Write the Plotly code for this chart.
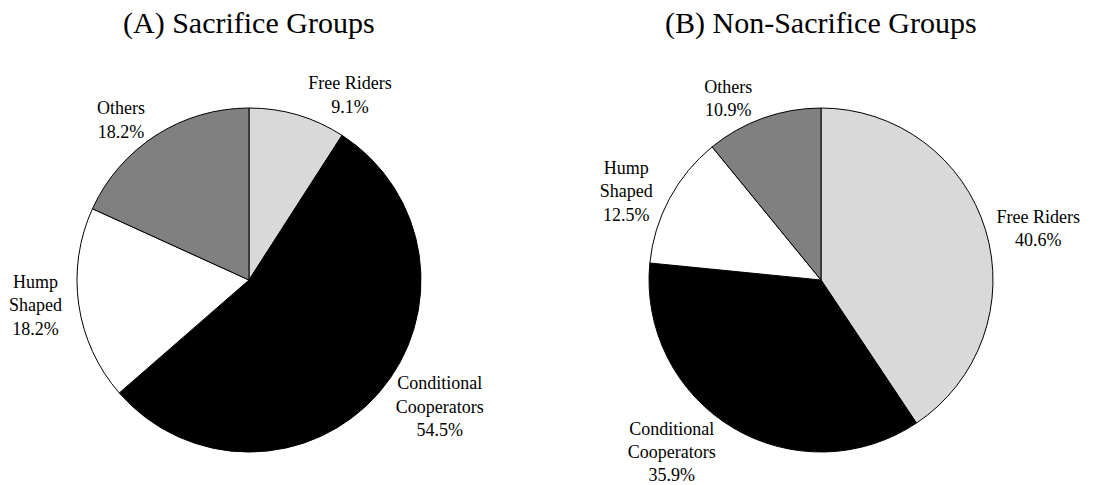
import plotly.graph_objects as go

categories = ['Free Riders', 'Conditional<br>Cooperators', 'Hump<br>Shaped', 'Others']
sacrifice_pct = [9.1, 54.5, 18.2, 18.2]
non_sacrifice_pct = [40.6, 35.9, 12.5, 10.9]
titles = ['(A) Sacrifice Groups', '(B) Non-Sacrifice Groups']
slice_colors = ['#d9d9d9', '#000000', '#ffffff', '#808080']

font = 'Liberation Serif, Times New Roman, serif'

fig = go.Figure()
for vals, dom in [(sacrifice_pct, [0.0704, 0.3852]), (non_sacrifice_pct, [0.5938, 0.9085])]:
    fig.add_trace(go.Pie(
        labels=categories, values=vals, sort=False, direction='clockwise',
        rotation=0, textposition='outside',
        texttemplate='%{label}<br>%{value:.1f}%',
        marker=dict(colors=slice_colors, line=dict(color='black', width=1)),
        textfont=dict(family=font, size=18, color='black'),
        domain=dict(x=dom, y=[0.068, 0.7773]),
        showlegend=False, hoverinfo='label+value'))

for t, x in zip(titles, [0.228, 0.751]):
    fig.add_annotation(text=t, x=x, y=0.953, xref='paper', yref='paper',
                       xanchor='center', yanchor='middle', showarrow=False,
                       font=dict(family=font, size=30, color='black'))

fig.update_layout(width=1093, height=485, paper_bgcolor='white',
                  margin=dict(l=0, r=0, t=0, b=0, autoexpand=False))
# drop the browser's default 8px body margin so the figure fills the window
fig.write_html('out.html', config={'displayModeBar': False},
               post_script="document.body.style.margin='0';")
